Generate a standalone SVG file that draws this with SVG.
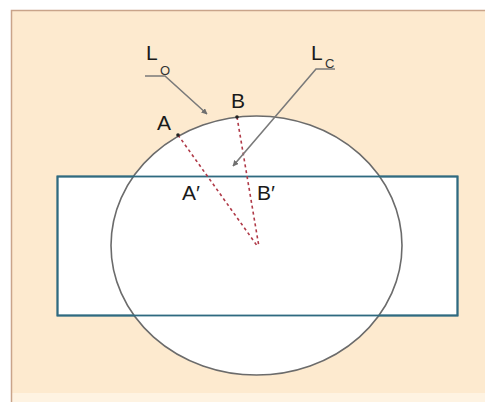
<svg xmlns="http://www.w3.org/2000/svg" width="485" height="402" viewBox="0 0 485 402">
<style>
.lbl{font-family:"Liberation Sans",Arial,sans-serif;fill:#1a1a1a;font-size:21px}
.sub{font-family:"Liberation Sans",Arial,sans-serif;fill:#333;font-size:13px}
.ray{stroke:#7a7a7a;stroke-width:1.6;fill:none}
.dash{stroke:#b03a48;stroke-width:1.6;stroke-dasharray:3 3;fill:none}
</style>
<defs>
<marker id="ah" viewBox="0 0 10 10" refX="9" refY="5" markerWidth="6" markerHeight="6" orient="auto" markerUnits="userSpaceOnUse">
<path d="M0,0 L10,5 L0,10 z" fill="#6f6f6f"/>
</marker>
</defs>
<rect x="0" y="0" width="485" height="402" fill="#ffffff"/>
<g id="background">
<rect x="11" y="10" width="474" height="383" fill="#fdeacf"/>
<rect x="11" y="393" width="474" height="9" fill="#fef3e2"/>
<path d="M11.5,402 L11.5,10.5 L485,10.5" fill="none" stroke="#c9a48a" stroke-width="1.5"/>
</g>
<g id="rect">
<rect x="57.5" y="176.5" width="400" height="139" fill="#ffffff" stroke="#2f6a80" stroke-width="1.8"/>
</g>
<g id="ellipse">
<ellipse cx="256.5" cy="245.5" rx="145.5" ry="129.5" fill="#ffffff" stroke="#6b6b6b" stroke-width="1.6"/>
<rect x="57.5" y="176.5" width="400" height="139" fill="none" stroke="#2f6a80" stroke-width="1.8"/>
</g>
<g id="connectors">
<path class="dash" d="M178,135 L258,247"/>
<path class="dash" d="M237,117 L259,247"/>
<path class="ray" d="M145,76 L165,76 L207,114" marker-end="url(#ah)"/>
<path class="ray" d="M335,69 L316,69 L233,166" marker-end="url(#ah)"/>
</g>
<g id="pointA">
<circle cx="178" cy="135" r="1.8" fill="#222"/>
<text class="lbl" x="157" y="130">A</text>
</g>
<g id="pointB">
<circle cx="237" cy="117" r="1.8" fill="#222"/>
<text class="lbl" x="231" y="108">B</text>
</g>
<g id="pointA2">
<text class="lbl" x="182" y="200">A′</text>
</g>
<g id="pointB2">
<text class="lbl" x="257" y="200">B′</text>
</g>
<g id="labelLO">
<text class="lbl" x="146" y="60">L</text>
<text class="sub" x="160" y="75">O</text>
</g>
<g id="labelLC">
<text class="lbl" x="311" y="60">L</text>
<text class="sub" x="325" y="68">C</text>
</g>
</svg>
